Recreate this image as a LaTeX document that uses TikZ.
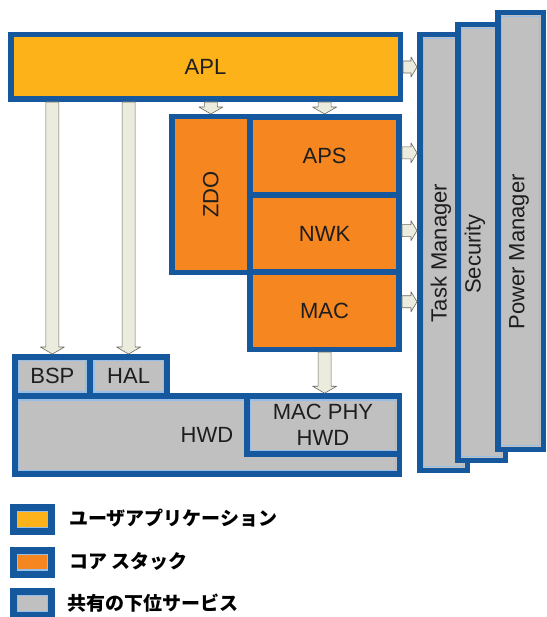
\documentclass[tikz,border=0pt]{standalone}
\usepackage{fontspec}
\setmainfont{Liberation Sans}
\newfontfamily\jpfont{Noto Sans CJK JP}
\usepackage{graphicx}
\usepackage{tikz}
\usetikzlibrary{calc}

\definecolor{rimblue}{RGB}{22,88,158}
\definecolor{rimlight}{RGB}{150,190,230}
\definecolor{aplyellow}{RGB}{252,178,24}
\definecolor{stackorange}{RGB}{246,134,32}
\definecolor{servgray}{RGB}{192,192,192}
\definecolor{flowfill}{RGB}{236,236,222}
\definecolor{flowrim}{RGB}{105,105,95}
\definecolor{labeltext}{RGB}{30,30,30}

% block arrows between two anchors
\newcommand{\flowdown}[2]{%
  \draw[flow] let \p1=(#1), \p2=(#2) in
    (\x1-6.5pt,\y1) -- (\x1-6.5pt,\y2+7pt) -- (\x1-12pt,\y2+7pt) -- (\x1,\y2)
    -- (\x1+12pt,\y2+7pt) -- (\x1+6.5pt,\y2+7pt) -- (\x1+6.5pt,\y1) -- cycle;}
\newcommand{\flowright}[2]{%
  \draw[flow] let \p1=(#1), \p2=(#2) in
    (\x1,\y1+6pt) -- (\x2-6pt,\y1+6pt) -- (\x2-6pt,\y1+10pt) -- (\x2,\y1)
    -- (\x2-6pt,\y1-10pt) -- (\x2-6pt,\y1-6pt) -- (\x1,\y1-6pt) -- cycle;}

\begin{document}
\begin{tikzpicture}[
    x=1pt, y=-1pt,
    box/.style = {
        rectangle,
        draw=rimblue,
        line width=5.5pt,
        inner sep=0pt,
        text=labeltext,
        font=\fontsize{22}{26}\selectfont
    },
    apl/.style = {box, fill=aplyellow},
    core/.style = {box, fill=stackorange},
    serv/.style = {box, fill=servgray,
        path picture={\draw[rimlight, line width=1.2pt]
            ([shift={(4pt,4pt)}]path picture bounding box.south west) rectangle
            ([shift={(-4pt,-4pt)}]path picture bounding box.north east);}},
    side/.style = {rotate=90, inner sep=0pt, text=labeltext,
        font=\fontsize{22}{26}\selectfont},
    key/.style = {line width=7pt, minimum width=38pt, minimum height=24pt},
    keytext/.style = {anchor=west, inner sep=0pt, text=black,
        font=\jpfont\bfseries\fontsize{19}{22}\selectfont},
    flow/.style = {draw=flowrim, fill=flowfill, line width=0.6pt, line join=round}
]
\useasboundingbox (0,0) rectangle (546,617);

%% Service columns
\node[serv, minimum width=47.5pt, minimum height=435.5pt] (task) at (443.5,252.5) {};
\node[serv, minimum width=47.5pt, minimum height=435.5pt] (security) at (481.5,242.5) {};
\node[serv, minimum width=45.5pt, minimum height=436.5pt] (power) at (520.5,231) {};
\node[side] (tasklabel) at (441,253) {Task Manager};
\node[side] (seclabel) at (475,254) {Security};
\node[side] (powerlabel) at (519,252) {Power Manager};

%% Application layer
\node[apl, minimum width=389.5pt, minimum height=64.5pt] (apl) at (205.5,67) {APL};

%% Core stack
\node[core, minimum width=78.25pt, minimum height=155.5pt] (zdo) at (210.9,194.5) {\rotatebox{90}{ZDO}};
\node[core, minimum width=149.25pt, minimum height=78.25pt] (aps) at (324.6,155.9) {APS};
\node[core, minimum width=149.25pt, minimum height=77.25pt] (nwk) at (324.6,233.6) {NWK};
\node[core, minimum width=149.25pt, minimum height=77pt] (mac) at (324.6,310.75) {MAC};

%% Hardware layer
\node[serv, minimum width=384.5pt, minimum height=78.25pt] (hwd) at (207,435.1) {HWD};
\node[serv, minimum width=75.25pt, minimum height=39.25pt] (bsp) at (52.4,376.4) {BSP};
\node[serv, minimum width=77.25pt, minimum height=39.25pt] (hal) at (128.6,376.4) {HAL};
\node[serv, minimum width=152.5pt, minimum height=58.25pt, align=center] (macphy) at (323,425.1) {MAC PHY\\HWD};

%% Arrows
\flowdown{apl.south -| bsp.north}{bsp.north}
\flowdown{apl.south -| hal.north}{hal.north}
\flowdown{apl.south -| zdo.north}{zdo.north}
\flowdown{apl.south -| aps.north}{aps.north}
\flowdown{mac.south}{macphy.north -| mac.south}
\flowright{apl.east}{task.west |- apl.east}
\flowright{[yshift=3pt]aps.east}{task.west |- aps.east}
\flowright{[yshift=3pt]nwk.east}{task.west |- nwk.east}
\flowright{[yshift=9pt]mac.east}{task.west |- mac.east}

%% Legend
\node[serv, key, fill=aplyellow] (keyapl) at (32.5,519.5) {};
\node[serv, key, fill=stackorange] (keycore) at (32.5,562) {};
\node[serv, key] (keyserv) at (32.5,603.5) {};
\node[keytext] (keyapltext) at (69,518) {ユーザアプリケーション};
\node[keytext] (keycoretext) at (69,561) {コア スタック};
\node[keytext] (keyservtext) at (67,603) {共有の下位サービス};

\end{tikzpicture}
\end{document}
